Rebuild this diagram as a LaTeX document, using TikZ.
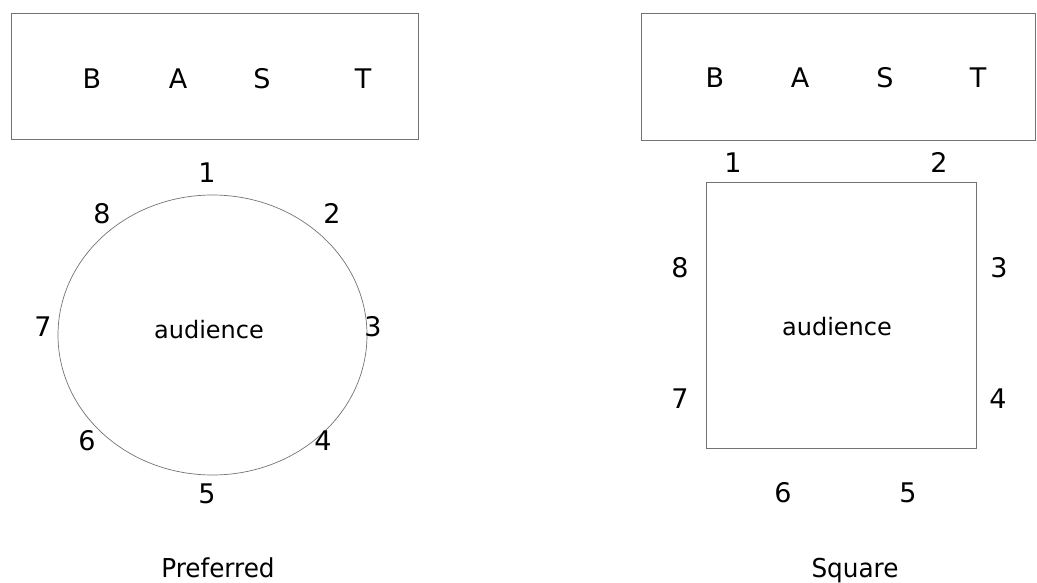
\documentclass[tikz,border=0pt]{standalone}
\usepackage{fontspec}
\setmainfont{DejaVu Sans}
\begin{document}
\begin{tikzpicture}[x=1pt,y=-1pt,
  frame/.style={draw=black!55, line width=0.9pt},
  lab/.style={anchor=base, inner sep=0pt, font=\fontsize{27}{32}\selectfont},
  aud/.style={anchor=base, inner sep=0pt, font=\fontsize{24}{29}\selectfont},
  captext/.style={anchor=base, inner sep=0pt, font=\fontsize{26}{31}\selectfont}]
\useasboundingbox (0,0) rectangle (1037,583);
% left panel
\node[frame, rectangle, minimum width=407pt, minimum height=126pt, anchor=north west, inner sep=0pt] (boxL) at (11,13) {};
\node[lab] (LB) at (92,89) {B};
\node[lab] (LA) at (178,89) {A};
\node[lab] (LS) at (262,89) {S};
\node[lab] (LT) at (363,89) {T};
\draw[frame, line width=0.7pt] (212.5,335) ellipse [x radius=154.5pt, y radius=140pt];
\node[aud] (audL) at (209,338) {audience};
\node[lab] (c1) at (207,183) {1};
\node[lab] (c2) at (332,223) {2};
\node[lab] (c3) at (373,336) {3};
\node[lab] (c4) at (323,450) {4};
\node[lab] (c5) at (207,503) {5};
\node[lab] (c6) at (87,450) {6};
\node[lab] (c7) at (43,336) {7};
\node[lab] (c8) at (102,223) {8};
\node[captext] (pref) at (218,577) {\scalebox{0.95}[1]{Preferred}};
% right panel
\node[frame, rectangle, minimum width=394pt, minimum height=127pt, anchor=north west, inner sep=0pt] (boxR) at (641,13) {};
\node[lab] (RB) at (715,88) {B};
\node[lab] (RA) at (800,88) {A};
\node[lab] (RS) at (885,88) {S};
\node[lab] (RT) at (978,88) {T};
\node[frame, rectangle, minimum width=270pt, minimum height=266pt, anchor=north west, inner sep=0pt] (sq) at (706,182) {};
\node[aud] (audR) at (837,335) {audience};
\node[lab] (s1) at (733,173) {1};
\node[lab] (s2) at (939,173) {2};
\node[lab] (s3) at (999,277) {3};
\node[lab] (s4) at (998,408) {4};
\node[lab] (s5) at (908,502) {5};
\node[lab] (s6) at (783,502) {6};
\node[lab] (s7) at (680,408) {7};
\node[lab] (s8) at (680,277) {8};
\node[captext] (sqcap) at (855,577) {\scalebox{0.95}[1]{Square}};
\end{tikzpicture}
\end{document}
